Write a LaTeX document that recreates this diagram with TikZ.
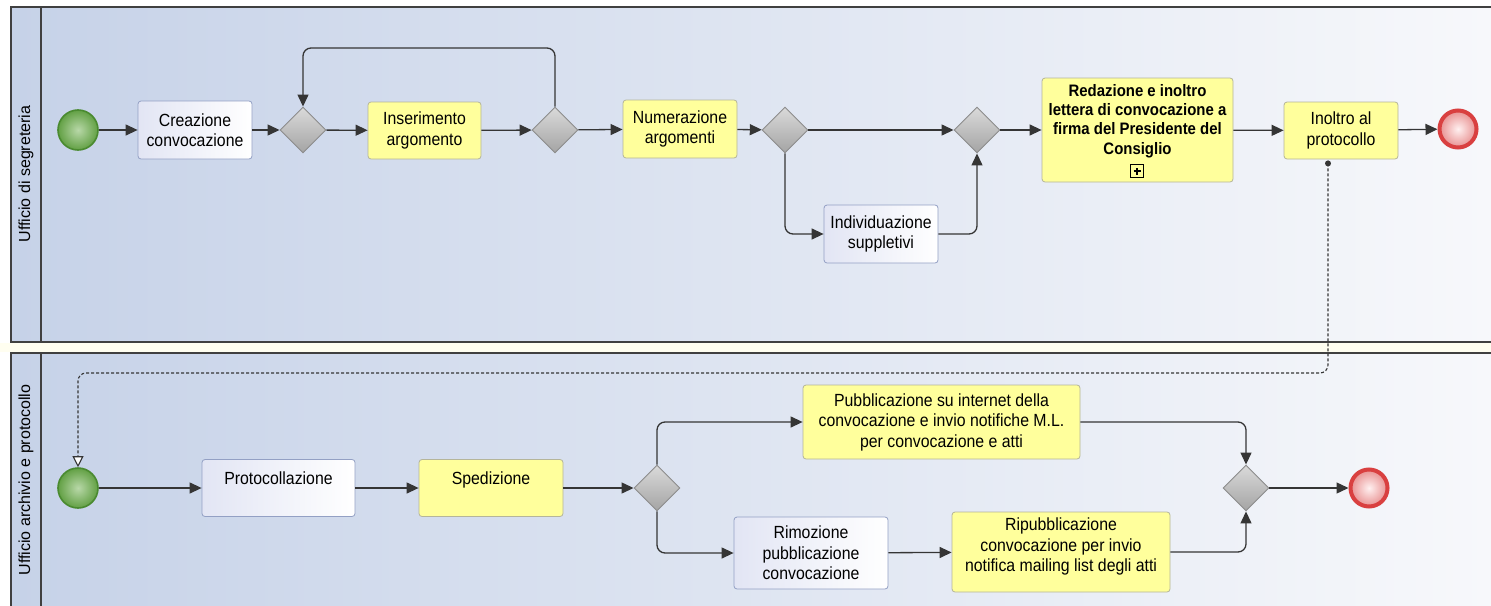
\documentclass[tikz,border=0pt]{standalone}
\usepackage{fontspec}
\setmainfont[FakeStretch=0.9]{Liberation Sans}
\newfontfamily\lanefont{Liberation Sans}
\usetikzlibrary{shapes.geometric,arrows.meta}
\definecolor{laneL}{HTML}{C6D2E8}
\definecolor{laneR}{HTML}{F7F8FB}
\definecolor{gapc}{HTML}{FFFEF0}
\definecolor{poolb}{HTML}{404040}
\definecolor{wtaskb}{HTML}{93A0C4}
\definecolor{wtaskL}{HTML}{E2E5F4}
\definecolor{ytaskb}{HTML}{B5B59A}
\definecolor{ytaskf}{HTML}{FFFF9C}
\definecolor{gwb}{HTML}{8C8C8C}
\definecolor{gwtop}{HTML}{DADADA}
\definecolor{gwbot}{HTML}{A4A4A4}
\definecolor{startb}{HTML}{4A8A30}
\definecolor{startin}{HTML}{B8D8A8}
\definecolor{startout}{HTML}{62A044}
\definecolor{endb}{HTML}{D94040}
\definecolor{endin}{HTML}{FFF0F0}
\definecolor{endout}{HTML}{E89090}
\definecolor{linec}{HTML}{353535}
\newcommand\tasksz{\fontsize{17.6}{20.5}\selectfont}
\newcommand\boldsz{\fontsize{16.6}{19.4}\selectfont\bfseries}
\tikzset{
  x=1pt, y=-1pt,
  task/.style={rounded corners=3pt, align=center, font=\tasksz, inner sep=1pt, line width=0.8pt},
  wtask/.style={task, draw=wtaskb, left color=wtaskL, right color=white},
  ytask/.style={task, draw=ytaskb, fill=ytaskf},
  gw/.style={diamond, aspect=1, minimum width=46pt, minimum height=46pt, inner sep=0pt, draw=gwb, line width=0.9pt, top color=gwtop, bottom color=gwbot},
  startev/.style={circle, minimum size=40pt, inner sep=0pt, draw=startb, line width=1.6pt, inner color=startin, outer color=startout},
  endev/.style={circle, minimum size=37pt, inner sep=0pt, draw=endb, line width=4pt, inner color=endin, outer color=endout},
  seq/.style={draw=linec, line width=1.3pt, -{Triangle[length=12pt,width=11pt]}, rounded corners=8pt},
  msg/.style={draw=linec, line width=1.1pt, dash pattern=on 3pt off 2pt, -{Triangle[open,length=11pt,width=11pt,fill=white]}, rounded corners=8pt},
  poolline/.style={draw=poolb, line width=1.3pt},
  lanelabel/.style={rotate=90, font=\lanefont\fontsize{16}{19}\selectfont, text=black}
}
\begin{document}
\begin{tikzpicture}
\useasboundingbox (0,0) rectangle (1491,605);
\fill[white] (0,0) rectangle (1491,605);
% pools
\shade[left color=laneL, right color=laneR] (11,7) rectangle (1491,342);
\shade[left color=laneL, right color=laneR] (11,353) rectangle (1491,606);
\fill[gapc] (0,343) rectangle (1491,352);
\draw[poolline] (1492,7) -- (11,7) -- (11,342) -- (1492,342);
\draw[poolline] (41,7) -- (41,342);
\draw[poolline] (1492,353) -- (11,353) -- (11,607);
\draw[poolline] (41,353) -- (41,607);
\node[lanelabel] (lane1) at (26,174) {Ufficio di segreteria};
\node[lanelabel] (lane2) at (26,480) {Ufficio archivio e protocollo};

% top lane
\node[startev] (s1) at (78,130) {};
\node[wtask, minimum width=114pt, minimum height=58pt] (t1) at (195,130) {Creazione\\convocazione};
\node[gw] (g1) at (303,130) {};
\node[ytask, minimum width=113pt, minimum height=57pt] (t2) at (424.5,130.5) {Inserimento\\argomento};
\node[gw] (g2) at (555,130) {};
\node[ytask, minimum width=114pt, minimum height=58pt] (t3) at (680,129) {Numerazione\\argomenti};
\node[gw] (g3) at (785,130) {};
\node[wtask, minimum width=114pt, minimum height=58pt] (t4) at (881,234) {Individuazione\\suppletivi};
\node[gw] (g4) at (977,130) {};
\node[ytask, minimum width=191pt, minimum height=104pt] (t5) at (1137.5,130) {};
\node[font=\boldsz, align=center, inner sep=0pt] (t5text) at (1137.5,121) {Redazione e inoltro\\lettera di convocazione a\\firma del Presidente del\\Consiglio};
\node[draw=black, line width=1.3pt, minimum size=13pt, inner sep=0pt] (plus) at (1137,171) {};
\draw[black, line width=1.8pt] ([xshift=-3.5pt]plus.center) -- ([xshift=3.5pt]plus.center);
\draw[black, line width=1.8pt] ([yshift=-3.5pt]plus.center) -- ([yshift=3.5pt]plus.center);
\node[ytask, minimum width=114pt, minimum height=57pt] (t6) at (1341,130.5) {Inoltro al\\protocollo};
\node[endev] (e1) at (1458,129) {};

\coordinate (loop) at (430,48);
\draw[seq] (s1) -- (t1);
\draw[seq] (t1) -- (g1);
\draw[seq] (g1) -- (t2);
\draw[seq] (t2) -- (g2);
\draw[seq] (g2.north) |- (loop) -| (g1.north);
\draw[seq] (g2) -- (t3);
\draw[seq] (t3) -- (g3);
\draw[seq] (g3) -- (g4);
\draw[seq] (g3.south) |- (t4.west);
\draw[seq] (t4.east) -| (g4.south);
\draw[seq] (g4) -- (t5);
\draw[seq] (t5) -- (t6);
\draw[seq] (t6) -- (e1);

% bottom lane
\node[startev] (s2) at (78,488) {};
\node[wtask, minimum width=153pt, minimum height=57pt] (t7) at (278.5,488) {Protocollazione\\\mbox{}};
\node[ytask, minimum width=144pt, minimum height=57pt] (t8) at (491,488) {Spedizione\\\mbox{}};
\node[gw] (g5) at (657,488) {};
\node[ytask, minimum width=277pt, minimum height=74pt] (t9) at (941.5,422) {Pubblicazione su internet della\\convocazione e invio notifiche M.L.\\per convocazione e atti};
\node[wtask, minimum width=154pt, minimum height=72pt] (t10) at (811,553) {Rimozione\\pubblicazione\\convocazione};
\node[ytask, minimum width=218pt, minimum height=80pt] (t11) at (1061,552) {Ripubblicazione\\convocazione per invio\\notifica mailing list degli atti\\[-6pt]\mbox{}};
\node[gw] (g6) at (1246,488) {};
\node[endev] (e2) at (1369,488) {};

\draw[seq] (s2) -- (t7);
\draw[seq] (t7) -- (t8);
\draw[seq] (t8) -- (g5);
\draw[seq] (g5.north) |- (t9.west);
\draw[seq] (g5.south) |- (t10.west);
\draw[seq] (t10) -- (t11);
\draw[seq] (t9.east) -| (g6.north);
\draw[seq] (t11.east) -| (g6.south);
\draw[seq] (g6) -- (e2);

% message flow
\coordinate (mrow) at (700,373);
\coordinate (mstart) at ([xshift=-13pt,yshift=-4pt]t6.south);
\draw[msg] (mstart) |- (s2.north |- mrow) -- (s2.north);
\fill[linec] (mstart) circle (3pt);
\end{tikzpicture}
\end{document}
